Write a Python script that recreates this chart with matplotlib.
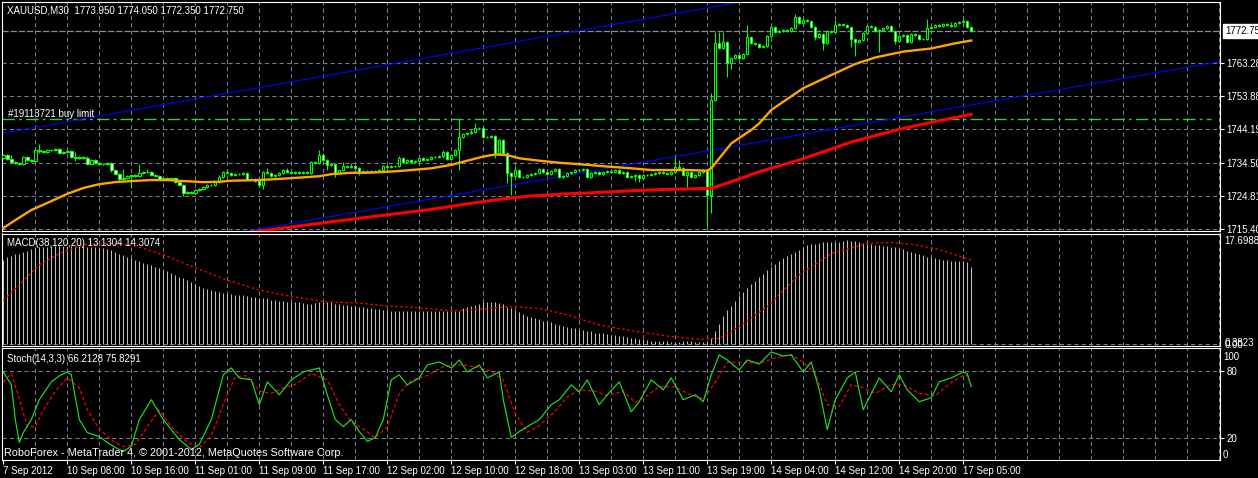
import numpy as np
import matplotlib
matplotlib.use('Agg')
import matplotlib.pyplot as plt

plt.rcParams['font.family'] = ['Liberation Sans', 'DejaVu Sans']

# ---- price data (XAUUSD M30), one value per bar ----
open_first = 1735.9
closes = [
    1736.7, 1735.6, 1734.7, 1734.4, 1734.1, 1736.2, 1735.3, 1735.0, 1738.2, 1737.9,
    1737.6, 1738.2, 1738.2, 1738.5, 1737.3, 1737.6, 1737.9, 1736.2, 1735.9, 1736.2,
    1735.9, 1734.1, 1735.3, 1734.4, 1734.1, 1734.1, 1734.4, 1732.4, 1731.2, 1729.8,
    1730.1, 1730.6, 1730.9, 1730.6, 1731.5, 1731.8, 1731.8, 1730.9, 1730.6, 1729.8,
    1730.1, 1729.8, 1730.1, 1728.9, 1728.0, 1725.7, 1726.0, 1725.7, 1726.6, 1726.9,
    1727.5, 1728.0, 1728.0, 1728.9, 1730.4, 1731.8, 1731.5, 1730.9, 1731.2, 1731.2,
    1731.5, 1729.8, 1729.8, 1729.2, 1728.0, 1731.8, 1731.5, 1730.6, 1730.9, 1731.5,
    1732.4, 1731.8, 1731.5, 1731.8, 1731.5, 1731.8, 1731.5, 1734.7, 1734.4, 1736.7,
    1735.3, 1733.8, 1734.1, 1731.5, 1732.4, 1733.6, 1733.3, 1733.6, 1733.0, 1731.8,
    1732.1, 1731.8, 1732.1, 1732.1, 1732.4, 1733.6, 1733.3, 1733.6, 1733.6, 1735.9,
    1734.7, 1735.3, 1734.7, 1735.0, 1735.9, 1735.3, 1735.6, 1736.2, 1736.2, 1736.5,
    1737.6, 1735.6, 1736.7, 1738.2, 1742.0, 1742.8, 1743.1, 1743.4, 1744.6, 1744.6,
    1742.0, 1742.0, 1742.3, 1737.3, 1741.1, 1737.3, 1731.5, 1730.6, 1732.4, 1730.4,
    1730.4, 1730.9, 1731.2, 1731.5, 1732.7, 1731.8, 1731.2, 1732.1, 1732.7, 1730.4,
    1730.6, 1731.5, 1731.8, 1732.4, 1732.4, 1732.7, 1730.4, 1731.5, 1731.8, 1731.2,
    1731.8, 1732.1, 1731.8, 1732.4, 1731.5, 1731.8, 1730.4, 1730.6, 1730.9, 1730.1,
    1730.9, 1730.9, 1731.2, 1731.5, 1731.8, 1731.5, 1731.2, 1731.8, 1733.3, 1733.0,
    1730.9, 1731.8, 1730.4, 1730.9, 1731.8, 1732.4, 1725.2, 1752.7, 1769.2, 1767.7,
    1769.5, 1763.4, 1764.8, 1765.7, 1764.8, 1766.0, 1770.9, 1769.2, 1768.9, 1768.0,
    1768.3, 1771.2, 1773.8, 1772.4, 1772.7, 1772.9, 1772.7, 1773.5, 1776.7, 1775.0,
    1775.8, 1775.6, 1773.8, 1770.9, 1771.8, 1769.2, 1772.7, 1772.4, 1774.4, 1774.7,
    1774.4, 1773.8, 1770.3, 1769.5, 1770.1, 1772.1, 1774.1, 1773.8, 1772.7, 1772.9,
    1773.5, 1774.1, 1772.7, 1769.8, 1771.2, 1771.5, 1769.5, 1771.8, 1771.5, 1770.3,
    1770.3, 1773.5, 1773.8, 1774.4, 1774.1, 1774.7, 1774.4, 1774.1, 1775.0, 1775.3,
    1775.6, 1773.95, 1772.75,
]
# wick lengths above / below the candle body
wick_up = [
    0.3, 0.3, 1.2, 0.3, 0.3, 0.3, 0.3, 0.3, 0.5, 1.7,
    0.3, 0.3, 0.3, 0.3, 0.3, 0.3, 0.3, 0.3, 1.5, 0.3,
    0.3, 0.6, 0.3, 0.3, 0.3, 0.3, 0.3, 0.3, 0.3, 0.3,
    2.5, 0.3, 0.3, 0.3, 2.6, 0.3, 1.0, 0.3, 0.3, 0.3,
    0.3, 0.3, 0.3, 0.3, 0.3, 0.3, 0.3, 0.3, 0.3, 0.3,
    0.3, 0.3, 0.3, 0.3, 0.6, 0.3, 0.9, 0.3, 0.3, 0.3,
    0.3, 0.3, 0.3, 0.3, 0.3, 0.3, 1.2, 0.3, 0.3, 0.3,
    0.3, 0.6, 0.3, 0.3, 0.3, 0.3, 0.3, 0.4, 0.3, 1.5,
    0.6, 0.3, 0.3, 0.3, 0.3, 1.0, 0.3, 0.8, 0.3, 0.3,
    0.3, 0.3, 0.3, 0.3, 0.3, 0.3, 0.3, 0.3, 0.3, 0.6,
    0.3, 0.3, 0.3, 0.3, 0.3, 0.3, 0.3, 0.3, 0.3, 0.3,
    0.6, 0.3, 0.3, 0.3, 5.2, 0.3, 0.3, 1.0, 1.5, 0.3,
    0.6, 0.3, 0.3, 0.3, 0.3, 0.3, 0.3, 0.3, 1.2, 0.3,
    0.3, 0.3, 0.3, 0.3, 0.3, 0.3, 0.3, 0.3, 0.3, 0.3,
    0.3, 0.3, 0.3, 0.3, 0.3, 0.3, 0.3, 0.3, 0.3, 0.3,
    0.3, 0.3, 0.3, 0.3, 0.3, 0.3, 0.3, 0.3, 0.3, 0.3,
    0.3, 0.3, 0.3, 0.3, 0.3, 0.3, 0.3, 0.3, 3.1, 2.0,
    0.3, 0.3, 0.3, 0.3, 0.3, 0.3, 0.3, 2.0, 3.3, 3.1,
    2.9, 0.3, 0.3, 0.3, 0.3, 0.3, 3.5, 0.3, 0.3, 0.3,
    0.3, 0.3, 0.3, 0.3, 0.3, 0.3, 0.3, 0.3, 0.9, 0.3,
    0.3, 0.3, 0.3, 0.3, 0.3, 0.3, 0.3, 0.3, 1.4, 0.3,
    0.3, 0.3, 0.3, 0.3, 0.3, 0.3, 0.3, 0.3, 0.3, 0.3,
    0.3, 0.3, 0.3, 0.3, 0.3, 0.3, 0.3, 0.3, 0.3, 0.3,
    0.3, 2.5, 0.3, 0.3, 0.3, 0.3, 0.3, 1.0, 0.3, 0.3,
    0.5, 0.3, 0.1,
]
wick_dn = [
    0.3, 0.3, 0.6, 0.3, 0.3, 0.3, 0.3, 0.3, 0.3, 0.6,
    0.3, 0.3, 0.3, 0.3, 0.3, 0.3, 0.3, 0.3, 0.9, 0.3,
    0.3, 0.3, 0.3, 0.3, 0.3, 0.3, 0.3, 0.5, 0.3, 0.5,
    0.3, 0.3, 3.5, 0.3, 0.3, 0.3, 0.3, 0.3, 0.3, 0.3,
    0.3, 0.3, 0.3, 0.3, 0.3, 0.8, 0.3, 0.3, 0.3, 0.3,
    0.3, 0.3, 0.3, 0.3, 0.3, 0.3, 0.3, 0.3, 0.3, 0.3,
    0.3, 0.3, 0.3, 0.3, 0.6, 1.0, 0.3, 0.3, 0.3, 0.3,
    0.3, 0.3, 0.3, 0.3, 0.3, 0.3, 0.3, 0.3, 0.3, 0.3,
    0.3, 1.5, 0.3, 1.0, 0.3, 0.3, 0.3, 0.3, 0.3, 0.9,
    0.3, 0.3, 0.3, 0.3, 0.3, 0.3, 0.3, 0.3, 0.3, 0.3,
    0.3, 0.3, 0.3, 0.3, 0.6, 0.3, 0.3, 0.3, 0.3, 0.3,
    0.6, 0.3, 0.3, 0.3, 5.8, 0.3, 0.3, 0.3, 0.3, 0.3,
    0.3, 0.3, 0.3, 1.5, 0.3, 0.3, 2.9, 5.4, 0.3, 0.3,
    0.3, 0.3, 0.3, 0.3, 0.3, 0.3, 0.3, 0.3, 0.3, 0.3,
    0.3, 0.3, 0.3, 0.3, 0.3, 0.3, 0.3, 0.3, 0.3, 0.3,
    0.3, 0.3, 0.3, 0.3, 0.3, 0.3, 0.3, 0.3, 1.5, 1.2,
    0.3, 0.3, 0.3, 0.3, 0.3, 0.3, 0.3, 0.3, 0.3, 0.3,
    0.3, 3.3, 0.3, 0.3, 0.3, 0.3, 9.2, 5.3, 0.3, 0.3,
    0.3, 4.0, 1.7, 0.3, 0.3, 0.3, 0.3, 0.3, 0.3, 0.3,
    0.3, 0.3, 0.3, 0.3, 0.3, 0.3, 0.3, 0.3, 0.3, 0.3,
    0.3, 0.3, 0.3, 0.9, 0.3, 2.0, 0.3, 0.3, 0.3, 0.3,
    0.3, 0.3, 2.2, 4.2, 0.3, 0.3, 0.3, 0.3, 0.3, 6.2,
    0.3, 0.3, 0.3, 1.0, 0.3, 0.3, 0.3, 0.3, 0.3, 0.3,
    0.3, 0.3, 0.3, 0.3, 0.3, 0.3, 0.3, 0.3, 0.3, 0.3,
    0.3, 0.3, 0.4,
]

# moving averages (bar index, price)
ma_fast_idx = [0, 3, 7, 12, 16, 20, 24, 28, 32, 37, 41, 45, 50, 54, 57, 64, 70, 74, 79, 82,
               87, 91, 96, 100, 107, 112, 116, 120, 123, 126, 129, 134, 139, 144, 151, 157,
               162, 171, 176, 177, 182, 187, 189, 192, 200, 207, 213, 218, 225, 232, 238, 242]
ma_fast = [1715.6, 1717.9, 1720.8, 1723.4, 1725.5, 1727.2, 1728.3, 1728.9, 1729.2, 1729.5,
           1729.5, 1729.2, 1728.9, 1729.0, 1729.3, 1729.5, 1729.9, 1730.2, 1730.6, 1731.2,
           1731.6, 1731.6, 1731.9, 1732.2, 1732.9, 1733.9, 1735.1, 1736.3, 1736.9, 1736.7,
           1735.8, 1735.1, 1734.5, 1734.1, 1733.4, 1732.9, 1732.4, 1732.4, 1732.2, 1732.9,
           1740.1, 1744.0, 1745.9, 1749.8, 1756.1, 1759.9, 1763.1, 1765.0, 1766.7, 1767.6,
           1769.1, 1769.9]
ma_slow_idx = [62, 74, 82, 91, 100, 107, 116, 124, 132, 141, 149, 157, 166, 174, 177, 182,
               189, 199, 212, 224, 234, 242]
ma_slow = [1714.4, 1716.2, 1717.4, 1718.7, 1720.0, 1721.0, 1722.6, 1723.9, 1724.9, 1725.5,
           1725.9, 1726.4, 1726.8, 1727.0, 1727.1, 1729.0, 1731.9, 1735.3, 1740.5, 1744.2,
           1746.7, 1748.5]

# trend channel anchors (bar index, price)
trend_upper = [(0, 1743.1), (183, 1780.8)]
trend_lower = [(62.4, 1715.0), (304.2, 1763.8)]
buy_limit = 1747.2
bid = 1772.75
price_levels = [1763.28, 1753.88, 1744.19, 1734.50, 1724.81, 1715.40]

# MACD(38,120,20)
macd = [
    14.3, 14.8, 15.0, 15.3, 15.4, 15.7, 15.9, 16.1, 16.3, 16.5,
    16.5, 16.6, 16.7, 16.7, 16.7, 16.7, 16.7, 16.7, 16.7, 16.7,
    16.7, 16.6, 16.5, 16.5, 16.4, 16.3, 16.2, 16.0, 15.7, 15.4,
    15.2, 14.9, 14.6, 14.3, 14.1, 13.8, 13.6, 13.4, 13.1, 12.9,
    12.6, 12.4, 12.1, 11.8, 11.5, 11.2, 10.9, 10.6, 10.2, 9.9,
    9.6, 9.4, 9.2, 9.0, 8.9, 8.7, 8.6, 8.5, 8.4, 8.4,
    8.3, 8.2, 8.1, 8.0, 7.9, 7.9, 7.8, 7.6, 7.5, 7.4,
    7.3, 7.2, 7.2, 7.2, 7.1, 7.0, 6.9, 6.9, 7.0, 7.1,
    7.2, 7.1, 7.1, 6.9, 6.8, 6.7, 6.6, 6.5, 6.5, 6.4,
    6.3, 6.2, 6.1, 6.0, 6.0, 5.9, 5.8, 5.7, 5.7, 5.7,
    5.7, 5.7, 5.7, 5.6, 5.6, 5.6, 5.6, 5.6, 5.6, 5.6,
    5.6, 5.6, 5.6, 5.6, 5.7, 6.1, 6.3, 6.5, 6.7, 6.8,
    7.1, 7.1, 7.1, 7.1, 7.0, 6.8, 6.4, 6.1, 5.8, 5.5,
    5.1, 4.8, 4.6, 4.4, 4.3, 4.0, 4.0, 3.7, 3.4, 3.3,
    3.1, 2.95, 2.8, 2.7, 2.5, 2.4, 2.3, 2.3, 2.0, 2.0,
    1.9, 1.8, 1.6, 1.6, 1.4, 1.4, 1.24, 1.1, 1.1, 0.95,
    0.9, 0.75, 0.64, 0.64, 0.6, 0.5, 0.5, 0.45, 0.4, 0.45,
    0.5, 0.5, 0.5, 0.45, 0.45, 0.38, 0.6, 1.1, 2.3, 3.5,
    4.8, 5.8, 6.5, 7.4, 8.2, 8.8, 9.5, 10.2, 10.8, 11.4,
    11.9, 12.6, 13.2, 13.6, 14.1, 14.6, 15.0, 15.3, 15.6, 16.0,
    16.5, 16.9, 17.0, 17.1, 17.25, 17.3, 17.3, 17.3, 17.3, 17.4,
    17.5, 17.7, 17.6, 17.5, 17.35, 17.25, 17.1, 17.0, 16.9, 16.85,
    16.7, 16.7, 16.6, 16.6, 16.3, 16.1, 15.8, 15.7, 15.5, 15.3,
    15.1, 14.9, 14.8, 14.6, 14.5, 14.3, 14.3, 14.2, 14.2, 14.1,
    14.1, 13.9, 13.13,
]
sig_idx = [0, 4, 9, 14, 20, 26, 32, 40, 48, 56, 64, 72, 81, 89, 96, 104, 112, 120, 127, 134,
           141, 149, 157, 166, 174, 179, 182, 191, 199, 207, 216, 222, 228, 234, 242]
sig = [7.5, 10.1, 13.5, 15.4, 16.9, 17.1, 16.9, 15.2, 13.0, 10.9, 9.2, 8.1, 7.2, 7.0, 6.5,
       6.2, 5.7, 6.0, 6.4, 6.1, 5.0, 3.3, 2.3, 1.4, 0.85, 1.0, 2.1, 6.4, 11.8, 15.4, 17.1,
       17.3, 16.9, 16.1, 14.3]

# Stoch(14,3,3)
k_idx = [0, 2, 3, 4, 5, 7, 9, 12, 14, 16, 17, 19, 21, 24, 26, 28, 30, 32, 34, 37,
         40, 44, 47, 49, 52, 55, 57, 59, 62, 64, 66, 69, 72, 75, 79, 81, 83, 85, 87, 89,
         91, 93, 95, 97, 99, 101, 104, 106, 109, 112, 114, 116, 119, 121, 124, 125, 127, 129, 131, 134,
         137, 139, 142, 144, 146, 149, 151, 154, 157, 159, 162, 165, 167, 170, 173, 175, 177, 179, 181, 184,
         186, 189, 192, 195, 197, 200, 202, 204, 206, 208, 211, 213, 215, 216, 219, 222, 224, 226, 229, 232,
         234, 237, 240, 241, 242]
k_val = [79.3, 67.7, 36.4, 15.8, 24.7, 36.4, 54.3, 70.4, 75.8, 79.3,
         76.7, 36.4, 24.7, 21.1, 15.8, 11.3, 7.7, 12.2, 36.4, 54.3,
         36.4, 18.4, 9.5, 14.0, 36.4, 76.7, 82.9, 73.9, 72.2, 49.8,
         70.4, 58.7, 72.2, 79.3, 82.9, 58.7, 36.4, 30.1, 36.4, 25.6,
         16.7, 20.2, 36.4, 72.2, 76.7, 67.7, 73.9, 85.6, 88.3, 82.9,
         90.1, 79.3, 85.6, 73.9, 79.3, 54.3, 20.2, 25.6, 30.1, 36.4,
         49.8, 54.3, 67.7, 61.4, 72.2, 49.8, 58.7, 70.4, 43.5, 52.5,
         72.2, 63.2, 73.9, 54.3, 58.7, 52.5, 76.7, 94.6, 90.1, 81.1,
         90.1, 86.5, 97.3, 93.7, 94.6, 79.3, 88.3, 63.2, 27.4, 54.3,
         73.9, 79.3, 45.3, 52.5, 73.9, 61.4, 76.7, 63.2, 52.5, 56.1,
         70.4, 73.9, 79.3, 77.6, 66.2]
d_idx = [0, 2, 4, 6, 8, 10, 13, 16, 19, 21, 24, 27, 30, 33, 36, 39, 42, 46, 49, 52,
         55, 58, 61, 64, 67, 70, 73, 77, 81, 84, 87, 90, 93, 96, 99, 102, 106, 110, 114, 118,
         122, 125, 128, 131, 134, 138, 141, 144, 148, 151, 155, 158, 161, 164, 168, 171, 175, 178, 181, 185,
         189, 193, 197, 200, 203, 206, 209, 212, 215, 218, 222, 225, 229, 233, 237, 240, 242]
d_val = [70, 78, 55, 30, 30, 45, 62, 74, 65, 45, 28, 18, 12, 14, 30, 45, 30, 16, 11, 22,
         50, 75, 76, 62, 60, 65, 68, 78, 72, 50, 34, 28, 20, 30, 60, 72, 76, 84, 86, 84,
         80, 72, 42, 25, 31, 44, 57, 63, 62, 58, 62, 52, 58, 66, 66, 60, 55, 70, 88, 88,
         87, 92, 95, 88, 78, 50, 48, 68, 65, 60, 68, 68, 60, 58, 70, 76, 75.8]

time_idx = [0, 16, 32, 48, 64, 80, 96, 112, 128, 144, 160, 176, 192, 208, 224, 240]
time_labels = ['7 Sep 2012', '10 Sep 08:00', '10 Sep 16:00', '11 Sep 01:00', '11 Sep 09:00',
               '11 Sep 17:00', '12 Sep 02:00', '12 Sep 10:00', '12 Sep 18:00', '13 Sep 03:00',
               '13 Sep 11:00', '13 Sep 19:00', '14 Sep 04:00', '14 Sep 12:00', '14 Sep 20:00',
               '17 Sep 05:00']

# ---- figure ----
W, H = 1258, 478
fig = plt.figure(figsize=(W / 100, H / 100), dpi=100, facecolor='black')
GRID = '#708090'
FS = 7.0


def panel(top, bottom):
    a = fig.add_axes([2 / W, 1 - bottom / H, 1218 / W, (bottom - top) / H], facecolor='black')
    a.set_xlim(-0.33, 304.2)
    for s in a.spines.values():
        s.set_color('white')
        s.set_linewidth(0.8)
    a.vlines(np.arange(8, 305, 8), 0, 1, transform=a.get_xaxis_transform(),
             colors=GRID, linewidth=0.75, linestyles=(0, (4, 3)), zorder=0)
    a.yaxis.tick_right()
    a.tick_params(axis='y', colors='white', labelsize=FS, length=3, width=0.8, pad=1.5)
    a.set_xticks([])
    return a


ax = panel(2, 231)
ax_m = panel(233.5, 345.7)
ax_s = panel(348.3, 460)

# main chart
ax.set_ylim(1714.74, 1781.06)
ax.hlines(price_levels, 0, 1, transform=ax.get_yaxis_transform(),
          colors=GRID, linewidth=0.75, linestyles=(0, (4, 3)), zorder=0)
ax.set_yticks(price_levels)
ax.set_yticklabels(['%.2f' % p for p in price_levels])

ax.axline(*trend_upper, color='#0000FF', linewidth=0.8, zorder=2)
ax.axline(*trend_lower, color='#0000FF', linewidth=0.8, zorder=2)
ax.axhline(buy_limit, xmin=0, xmax=0.993, color='#32CD32', linewidth=1.0,
           linestyle=(0, (9, 3, 2, 3)), zorder=1)
ax.axhline(bid, color='#8090A0', linewidth=0.9, linestyle=(0, (5, 1.5)), zorder=1)

bars = np.arange(len(closes))
c = np.array(closes)
o = np.array([open_first] + closes[:-1])
top = np.maximum(o, c)
bot = np.minimum(o, c)
ax.vlines(bars, bot - np.array(wick_dn), top + np.array(wick_up),
          colors='#00FF00', linewidth=0.8, zorder=3)
fills = np.where(c >= o, 'black', 'white')
ax.bar(bars, top - bot, bottom=bot, width=0.6, color=fills, edgecolor='#00FF00',
       linewidth=0.75, zorder=4)

ax.plot(ma_fast_idx, ma_fast, color='#FFA500', linewidth=1.7, zorder=5)
ax.plot(ma_slow_idx, ma_slow, color='#FF0000', linewidth=2.2, zorder=5)

# MACD
ax_m.set_ylim(-0.24, 18.81)
ax_m.axhline(0, color=GRID, linewidth=0.75, linestyle=(0, (4, 3)), zorder=0)
ax_m.vlines(bars, 0, macd, colors='#C0C0C0', linewidth=0.75, zorder=2)
ax_m.plot(sig_idx, sig, color='#FF0000', linewidth=0.9, linestyle=(0, (2, 2)), zorder=3)
ax_m.set_yticks([0.0, 0.3823, 17.6988])
ax_m.set_yticklabels(['0.00', '0.3823', '17.6988'])
ax_m.tick_params(axis='y', length=0, pad=3)

# Stochastic
ax_s.set_ylim(0, 100.6)
ax_s.axhline(80, color=GRID, linewidth=0.75, linestyle=(0, (4, 3)), zorder=0)
ax_s.axhline(20, color=GRID, linewidth=0.75, linestyle=(0, (4, 3)), zorder=0)
ax_s.plot(k_idx, k_val, color='#22DD22', linewidth=0.85, zorder=3)
ax_s.plot(d_idx, d_val, color='#FF0000', linewidth=0.85, linestyle=(0, (3, 2)), zorder=2)
ax_s.set_yticks([20, 80])
ax_s.set_xticks(time_idx)
ax_s.set_xticklabels(time_labels, ha='left')
ax_s.tick_params(axis='x', colors='white', labelsize=FS, length=3, width=0.8, pad=1.5)


def ptext(x, y, s, **kw):
    kw.setdefault('color', 'white')
    kw.setdefault('fontsize', FS)
    fig.text(x / W, 1 - y / H, s, va='center', ha='left', **kw)


ptext(7, 10.5, 'XAUUSD,M30  1773.950 1774.050 1772.350 1772.750')
ptext(8, 114, '#19113721 buy limit')
ptext(7, 243.5, 'MACD(38,120,20) 13.1304 14.3074')
ptext(7, 359.5, 'Stoch(14,3,3) 66.2128 75.8291')
ptext(4, 453, 'RoboForex - MetaTrader 4, \u00a9 2001-2012, MetaQuotes Software Corp.', fontsize=7.8)
ptext(1223, 357, '100')
ptext(1223, 454.5, '0')
ptext(1225, 31, '%.2f' % bid, color='black',
      bbox=dict(boxstyle='square,pad=0.2', facecolor='white', edgecolor='white'))

fig.savefig('out.png', dpi=100, facecolor='black')
